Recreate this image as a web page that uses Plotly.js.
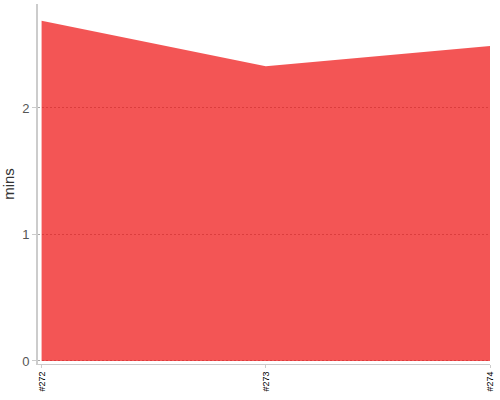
<!DOCTYPE html>
<html>
<head>
<meta charset="utf-8">
<script src="https://cdn.plot.ly/plotly-3.0.1.min.js"></script>
<style>
  html, body { margin: 0; padding: 0; background: #fff; }
  #chart { width: 500px; height: 400px; }
</style>
</head>
<body>
<div id="chart"></div>
<script>
// build numbers and their duration in minutes
const builds = ["#272", "#273", "#274"];
const minutes = [2.69, 2.33, 2.49];

const data = [{
    type: "scatter",
    mode: "lines",
    x: builds,
    y: minutes,
    fill: "tozeroy",
    fillcolor: "rgba(239,20,20,0.72)",
    line: {width: 0, color: "rgba(239,20,20,0.72)"},
    hoverinfo: "x+y"
}];

const layout = {
    width: 500,
    height: 400,
    margin: {l: 38, r: 10, t: 4, b: 36},
    paper_bgcolor: "#fff",
    plot_bgcolor: "#fff",
    showlegend: false,
    font: {family: "Liberation Sans, Arial, sans-serif"},
    xaxis: {
        type: "category",
        range: [-0.016, 2],
        showgrid: false,
        zeroline: false,
        showline: true,
        linecolor: "#ccc",
        linewidth: 1,
        ticks: "outside",
        ticklen: 3,
        tickcolor: "#ccc",
        tickangle: -90,
        tickfont: {size: 9, color: "#000"}
    },
    yaxis: {
        range: [-0.024, 2.822],
        tickvals: [0, 1, 2],
        showgrid: true,
        gridcolor: "#a8a8a8",
        griddash: "2px,2px",
        gridwidth: 1,
        zeroline: false,
        showline: true,
        linecolor: "#ccc",
        linewidth: 2,
        ticks: "outside",
        ticklen: 4,
        tickcolor: "#ccc",
        tickfont: {size: 13, color: "#555"},
        title: {text: "mins", font: {size: 15, color: "#333"}, standoff: 6}
    }
};

Plotly.newPlot("chart", data, layout, {displayModeBar: false});
</script>
</body>
</html>
